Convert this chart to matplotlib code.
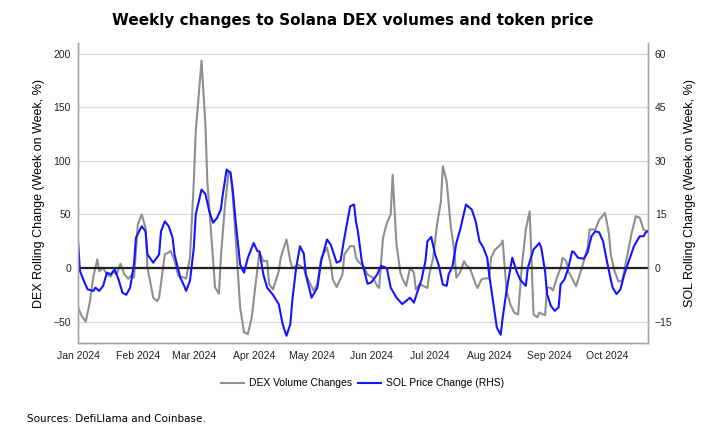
import numpy as np
import pandas as pd
import matplotlib
matplotlib.use("Agg")
import matplotlib.pyplot as plt
import matplotlib.dates as mdates

# days since 2024-01-01
dex_days = [0, 2, 4, 6, 8, 10, 11, 13, 15, 17, 18, 20, 22, 24, 26, 28, 29, 31, 33, 35,
            36, 39, 41, 42, 45, 47, 48, 50, 52, 55, 56, 58, 60, 61, 64, 66, 67, 69, 71, 73,
            74, 76, 78, 79, 80, 82, 84, 86, 88, 90, 92, 94, 96, 98, 99, 101, 104, 105, 108, 110,
            111, 114, 117, 118, 122, 124, 126, 129, 131, 132, 134, 137, 138, 141, 143, 144, 145, 148, 150, 153,
            155, 156, 158, 160, 162, 163, 165, 167, 168, 170, 172, 174, 175, 177, 179, 181, 182, 184, 186, 188,
            189, 191, 193, 195, 196, 198, 200, 201, 203, 206, 207, 209, 211, 213, 214, 216, 219, 220, 222, 224,
            226, 228, 230, 232, 234, 236, 238, 239, 241, 242, 243, 245, 246, 248, 250, 251, 253, 254, 256, 258,
            261, 264, 265, 268, 270, 271, 273, 275, 276, 278, 280, 282, 284, 287, 289, 291, 293, 295]
dex_change = [-37, -45, -50, -33, -7.5, 8, -3, 0, -6, -8, -3, -6, 4, -6, -10, -6, -9, 41, 50, 37.5,
              0, -27.7, -31, -27.7, 13, 14.5, 16, 7, -7.5, -9, -10, 10, 81, 127.6, 193.6, 134, 81, 31.6, -18, -24,
              9.6, 56, 90, 90, 71.7, 19, -37, -60, -61.7, -46, -15, 15, 6.5, 6.5, -15, -20, -3, 9.6, 26.7, 6.5,
              0, 3, 0, -6, -21, -15, 9.6, 19, 3, -10.6, -17.7, -6, 12.7, 20.5, 20.5, 9.6, 6.5, 1, -6, -9.6,
              -16.8, -18.6, 28, 42, 50, 87, 22, -4, -9.6, -16.8, 0, -4, -20, -15, -16.8, -18.6, -6, 9.6, 40.7, 62,
              95, 81, 40.7, 15, -9, -4, 6.5, 3, 0, -15, -18.6, -10.6, -9.6, -9.6, 9.6, 17, 22, 25.7, -21, -34,
              -41.6, -43.4, 3, 36, 53, -43.4, -46, -41.6, -43.4, -44, -18, -18.6, -21, -9.6, 0, 9.6, 6.5, -3, -9.6, -17,
              0, 19, 36, 36, 45, 47, 51.5, 33, 12.7, -3, -12.7, -11.6, 6.5, 34, 48.4, 47, 36, 34]

sol_days = [0, 1, 3, 5, 8, 9, 11, 13, 15, 17, 19, 21, 23, 25, 27, 29, 30, 33, 35, 36,
            39, 42, 43, 45, 47, 49, 50, 53, 55, 56, 58, 60, 61, 64, 66, 68, 70, 72, 74, 75,
            77, 79, 80, 82, 84, 86, 88, 91, 93, 94, 96, 98, 101, 104, 106, 108, 110, 111, 113, 115,
            117, 118, 121, 124, 126, 129, 131, 134, 136, 138, 141, 143, 144, 145, 147, 150, 152, 155, 157, 160,
            162, 165, 168, 170, 172, 174, 176, 178, 180, 181, 183, 185, 187, 189, 191, 192, 194, 196, 198, 201,
            202, 204, 206, 208, 210, 212, 213, 215, 217, 219, 220, 222, 224, 225, 227, 229, 232, 233, 236, 239,
            240, 242, 243, 245, 247, 249, 250, 252, 254, 256, 257, 259, 262, 264, 266, 268, 270, 272, 274, 276,
            277, 279, 281, 283, 286, 288, 291, 293, 294, 295]
sol_change = [7.5, -0.8, -3.6, -6, -6.4, -5.5, -6.4, -5, -1.3, -1.8, -0.4, -3.2, -6.9, -7.5, -5.5, 1, 8.5, 11.7, 10.3, 3.8,
              1.5, 3.8, 10.3, 13.1, 11.7, 8.5, 3.8, -2.7, -5, -6.4, -3.6, 5.7, 15, 22, 20.7, 15.9, 12.7, 14, 16.4, 20.6,
              27.6, 26.6, 22.7, 11.3, 1, -1.3, 2.9, 7, 4.7, 4.7, -1.8, -5.5, -7.5, -10.1, -15.7, -19, -15.7, -9.2, 0, 6.1,
              4, -1.8, -8.3, -5.5, 2, 8, 6.5, 1.5, 2, 8.5, 17.3, 17.8, 13, 10.3, 2, -4.4, -4, -1.8, 0.6, 0,
              -5.5, -8.3, -10.1, -9.2, -8.3, -9.7, -6.4, -3.2, 2, 7.5, 8.7, 3.8, 0.6, -4.6, -5, -1.8, 0.5, 7, 10.8, 17.8,
              17.3, 16.4, 13.1, 7.5, 5.7, 2.9, -1.8, -9.2, -16.7, -18.7, -13.9, -6.4, 0, 2.9, -0.6, -3.2, -5, 0, 5.2, 7,
              5.7, -1, -7.3, -10.6, -12, -11, -4.6, -3.2, 0, 4.7, 4.4, 2.9, 2.6, 4.4, 8.9, 10.3, 10, 7.5, 2, -3.2,
              -5.5, -7.3, -6, -1.8, 2.9, 6.1, 8.9, 8.9, 9.9, 10.3]

left_ticks = [-50, 0, 50, 100, 150, 200]
right_ticks = [-15, 0, 15, 30, 45, 60]
month_ticks = pd.date_range("2024-01-01", "2024-10-01", freq="MS")

start = pd.Timestamp("2024-01-01")
dex_dates = start + pd.to_timedelta(dex_days, unit="D")
sol_dates = start + pd.to_timedelta(sol_days, unit="D")

tick_font = ["Liberation Sans", "DejaVu Sans"]
grid_col = "#d9d9d9"
spine_col = "#a6a6a6"

fig = plt.figure(figsize=(7.25, 4.36), dpi=100)
ax = fig.add_axes([0.1076, 0.2133, 0.7862, 0.6877])
ax2 = ax.twinx()

ax.plot(dex_dates, dex_change, color="#8f8f8f", lw=1.5, label="DEX Volume Changes")
ax.axhline(0, color="#222222", lw=1.6, zorder=3)
ax2.plot(sol_dates, sol_change, color="#1414ff", lw=1.5, label="SOL Price Change (RHS)")

ax.set_ylim(-70, 210)
ax2.set_ylim(-21, 63)
ax.set_yticks(left_ticks)
ax2.set_yticks(right_ticks)
ax.set_xlim(start, start + pd.Timedelta(days=295.3))
ax.set_xticks(month_ticks)
ax.xaxis.set_major_formatter(mdates.DateFormatter("%b %Y"))

ax.grid(axis="y", color=grid_col, lw=0.9)
ax.set_axisbelow(True)

for a in (ax, ax2):
    a.spines["top"].set_visible(False)
    for s in ("left", "right", "bottom"):
        a.spines[s].set_color(spine_col)
        a.spines[s].set_linewidth(1.0)
    a.tick_params(length=0, labelsize=7.5, colors="#222222")
    for lab in a.get_xticklabels() + a.get_yticklabels():
        lab.set_family(tick_font)
ax.tick_params(axis="y", pad=5)
ax2.tick_params(axis="y", pad=5)
ax.tick_params(axis="x", pad=6)

ax.set_ylabel("DEX Rolling Change (Week on Week, %)", family=tick_font, fontsize=9, labelpad=6)
ax2.set_ylabel("SOL Rolling Change (Week on Week, %)", family=tick_font, fontsize=9, labelpad=8)

fig.text(0.486, 0.953, "Weekly changes to Solana DEX volumes and token price",
         ha="center", va="center", fontsize=11, fontweight="bold", family="DejaVu Sans")

h1, l1 = ax.get_legend_handles_labels()
h2, l2 = ax2.get_legend_handles_labels()
fig.legend(h1 + h2, l1 + l2, loc="center", bbox_to_anchor=(0.5, 0.121), ncol=2, frameon=False,
           prop={"family": tick_font, "size": 7.5}, handlelength=2.2, columnspacing=0.6, handletextpad=0.5)

fig.text(0.037, 0.04, "Sources: DefiLlama and Coinbase.", fontsize=7.5, family="DejaVu Sans", va="center")

fig.savefig("out.png", dpi=100)
